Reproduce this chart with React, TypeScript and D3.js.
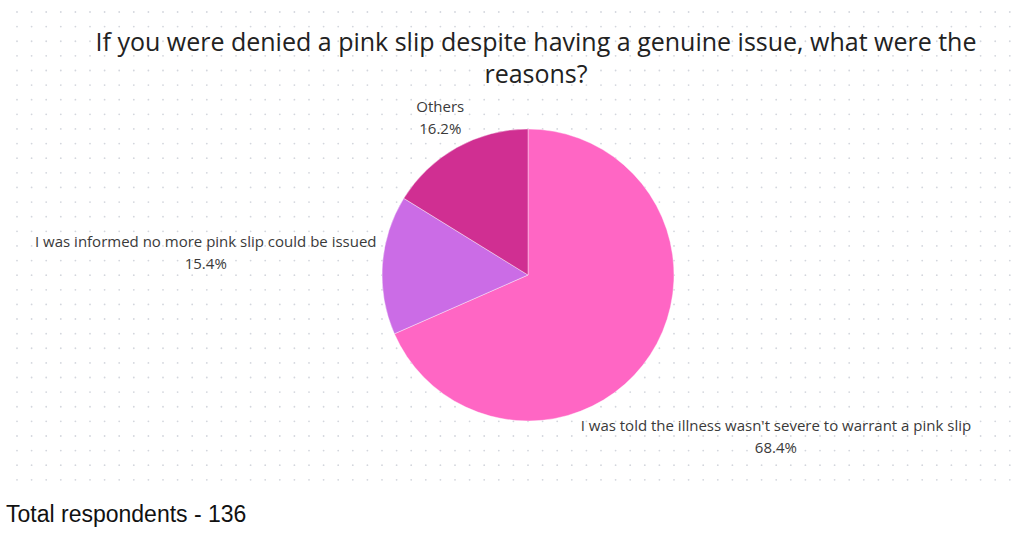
import React from "react";
import * as d3 from "d3";

const categories = [
  "I was told the illness wasn't severe to warrant a pink slip",
  "I was informed no more pink slip could be issued",
  "Others",
];
const values = [68.4, 15.4, 16.2];
const colors = ["#FF66C4", "#CB6CE6", "#D02F92"];
const titleLines = [
  "If you were denied a pink slip despite having a genuine issue, what were the",
  "reasons?",
];
const footer = "Total respondents - 136";

const W = 1024;
const H = 538;
const CX = 528;
const CY = 275;
const R = 146;
const LABEL_SIZE = 15;
const LABEL_FONT = `${LABEL_SIZE}px 'Open Sans'`;

function measure(text: string, font: string): number {
  if (typeof document === "undefined") return text.length * 7.5;
  const c = document.createElement("canvas");
  const ctx = c.getContext("2d");
  if (!ctx) return text.length * 7.5;
  ctx.font = font;
  return ctx.measureText(text).width;
}

export default function App() {
  const pie = d3.pie<number>().sort(null).value((d) => d)(values);
  const arc = d3.arc<d3.PieArcDatum<number>>().innerRadius(0).outerRadius(R);

  const dotsX = d3.range(17, 1020, 14.6);
  const dotsY = d3.range(12, 485, 14.62);

  const labels = pie.map((p, i) => {
    const mid = (p.startAngle + p.endAngle) / 2;
    const ux = Math.sin(mid);
    const uy = -Math.cos(mid);
    const w = Math.max(
      measure(categories[i], LABEL_FONT),
      measure(values[i].toFixed(1) + "%", LABEL_FONT)
    );
    const hw = w / 2;
    const hh = 20;
    const pad = 5;
    let r = R;
    for (; r < 600; r += 0.5) {
      const bx = ux * r;
      const by = uy * r;
      const nx = Math.max(bx - hw, Math.min(0, bx + hw));
      const ny = Math.max(by - hh, Math.min(0, by + hh));
      if (Math.hypot(nx, ny) >= R + pad) break;
    }
    return { x: CX + ux * r, y: CY + uy * r, i };
  });

  return (
    <svg
      width={W}
      height={H}
      style={{ position: "absolute", left: 0, top: 0, background: "#fff" }}
    >
      <rect width={W} height={H} fill="#fff" />
      <g fill="#d3d6dd">
        {dotsY.map((y) =>
          dotsX.map((x) => <circle key={x + "-" + y} cx={x} cy={y} r={0.9} />)
        )}
      </g>
      <g
        fontFamily="'Open Sans', 'Noto Sans', sans-serif"
        fontSize={25}
        fill="#222"
        textAnchor="middle"
      >
        {titleLines.map((t, i) => (
          <text key={i} x={536} y={51 + i * 32}>
            {t}
          </text>
        ))}
      </g>
      <g transform={`translate(${CX},${CY})`}>
        {pie.map((p, i) => (
          <path
            key={i}
            d={arc(p) || ""}
            fill={colors[i]}
            stroke="#fff"
            strokeWidth={0.4}
          />
        ))}
      </g>
      <g
        fontFamily="'Open Sans', 'Noto Sans', sans-serif"
        fontSize={LABEL_SIZE}
        fill="#3a3a3a"
        textAnchor="middle"
      >
        {labels.map((l) => (
          <g key={l.i}>
            <text x={l.x} y={l.y - 11 + 5}>
              {categories[l.i]}
            </text>
            <text x={l.x} y={l.y + 11 + 5}>
              {values[l.i].toFixed(1) + "%"}
            </text>
          </g>
        ))}
      </g>
      <text
        x={6}
        y={522}
        fontFamily="'Liberation Sans', Arial, sans-serif"
        fontSize={23}
        fill="#111"
      >
        {footer}
      </text>
    </svg>
  );
}
